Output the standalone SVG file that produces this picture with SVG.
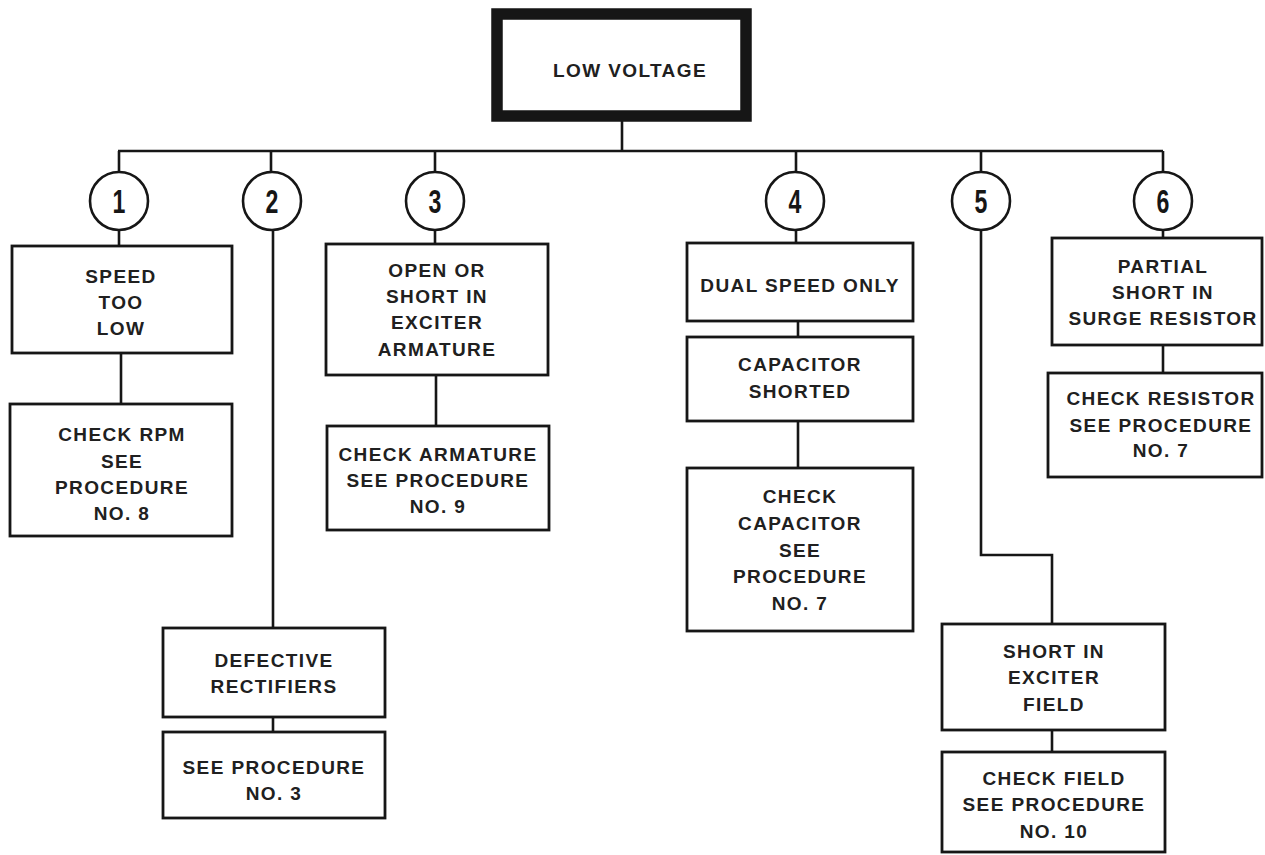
<svg xmlns="http://www.w3.org/2000/svg" width="1265" height="855" viewBox="0 0 1265 855">
  <style>
    .box { fill: #ffffff; stroke: #161616; stroke-width: 2.8; }
    .root { fill: #ffffff; stroke: #161616; stroke-width: 11.5; }
    .ring { fill: #ffffff; stroke: #161616; stroke-width: 2.6; }
    .wire { fill: none; stroke: #161616; stroke-width: 2.6; }
    .lbl { font-family: "Liberation Sans", Arial, Helvetica, sans-serif; font-weight: bold; font-size: 19px; letter-spacing: 1.4px; fill: #202020; text-anchor: middle; }
    .num { font-family: "Liberation Sans", Arial, Helvetica, sans-serif; font-weight: bold; font-size: 34px; fill: #161616; text-anchor: middle; }
  </style>
  <rect width="1265" height="855" fill="#ffffff"/>

  <!-- connectors -->
  <g id="connectors" class="wire">
    <line x1="622" y1="120" x2="622" y2="151"/>
    <line x1="118" y1="151" x2="1163" y2="151"/>
    <!-- branch 1 -->
    <line x1="119" y1="151" x2="119" y2="246"/>
    <line x1="121" y1="353" x2="121" y2="404"/>
    <!-- branch 2 -->
    <line x1="271" y1="151" x2="271" y2="172"/>
    <line x1="273" y1="230" x2="273" y2="628"/>
    <line x1="273" y1="717" x2="273" y2="732"/>
    <!-- branch 3 -->
    <line x1="435" y1="151" x2="435" y2="244"/>
    <line x1="436" y1="375" x2="436" y2="426"/>
    <!-- branch 4 -->
    <line x1="796" y1="151" x2="796" y2="243"/>
    <line x1="798" y1="321" x2="798" y2="337"/>
    <line x1="798" y1="421" x2="798" y2="468"/>
    <!-- branch 5 -->
    <polyline points="981,151 981,555 1052,555 1052,624"/>
    <line x1="1052" y1="730" x2="1052" y2="752"/>
    <!-- branch 6 -->
    <line x1="1163" y1="151" x2="1163" y2="238"/>
    <line x1="1163" y1="345" x2="1163" y2="373"/>
  </g>

  <!-- top node -->
  <g id="low-voltage">
    <rect class="root" x="497" y="14" width="249" height="102"/>
    <text class="lbl" x="630" y="77">LOW VOLTAGE</text>
  </g>

  <!-- numbered markers -->
  <g id="marker-1">
    <circle class="ring" cx="119" cy="201" r="29"/>
    <text class="num" transform="translate(119 213) scale(0.68 1)">1</text>
  </g>
  <g id="marker-2">
    <circle class="ring" cx="272" cy="201" r="29"/>
    <text class="num" transform="translate(272 213) scale(0.68 1)">2</text>
  </g>
  <g id="marker-3">
    <circle class="ring" cx="435" cy="201" r="29"/>
    <text class="num" transform="translate(435 213) scale(0.68 1)">3</text>
  </g>
  <g id="marker-4">
    <circle class="ring" cx="795" cy="201" r="29"/>
    <text class="num" transform="translate(795 213) scale(0.68 1)">4</text>
  </g>
  <g id="marker-5">
    <circle class="ring" cx="981" cy="201" r="29"/>
    <text class="num" transform="translate(981 213) scale(0.68 1)">5</text>
  </g>
  <g id="marker-6">
    <circle class="ring" cx="1163" cy="201" r="29"/>
    <text class="num" transform="translate(1163 213) scale(0.68 1)">6</text>
  </g>

  <!-- branch 1 -->
  <g id="speed-too-low">
    <rect class="box" x="12" y="246" width="220" height="107"/>
    <text class="lbl" x="121" y="283">SPEED</text>
    <text class="lbl" x="121" y="309">TOO</text>
    <text class="lbl" x="121" y="335">LOW</text>
  </g>
  <g id="check-rpm">
    <rect class="box" x="10" y="404" width="222" height="132"/>
    <text class="lbl" x="122" y="441">CHECK RPM</text>
    <text class="lbl" x="122" y="468">SEE</text>
    <text class="lbl" x="122" y="494">PROCEDURE</text>
    <text class="lbl" x="122" y="520">NO. 8</text>
  </g>

  <!-- branch 2 -->
  <g id="defective-rectifiers">
    <rect class="box" x="163" y="628" width="222" height="89"/>
    <text class="lbl" x="274" y="667">DEFECTIVE</text>
    <text class="lbl" x="274" y="693">RECTIFIERS</text>
  </g>
  <g id="procedure-3">
    <rect class="box" x="163" y="732" width="222" height="86"/>
    <text class="lbl" x="274" y="774">SEE PROCEDURE</text>
    <text class="lbl" x="274" y="800">NO. 3</text>
  </g>

  <!-- branch 3 -->
  <g id="exciter-armature">
    <rect class="box" x="326" y="244" width="222" height="131"/>
    <text class="lbl" x="437" y="277">OPEN OR</text>
    <text class="lbl" x="437" y="303">SHORT IN</text>
    <text class="lbl" x="437" y="329">EXCITER</text>
    <text class="lbl" x="437" y="356">ARMATURE</text>
  </g>
  <g id="check-armature">
    <rect class="box" x="327" y="426" width="222" height="104"/>
    <text class="lbl" x="438" y="461">CHECK ARMATURE</text>
    <text class="lbl" x="438" y="487">SEE PROCEDURE</text>
    <text class="lbl" x="438" y="513">NO. 9</text>
  </g>

  <!-- branch 4 -->
  <g id="dual-speed">
    <rect class="box" x="687" y="243" width="226" height="78"/>
    <text class="lbl" x="800" y="292">DUAL SPEED ONLY</text>
  </g>
  <g id="capacitor-shorted">
    <rect class="box" x="687" y="337" width="226" height="84"/>
    <text class="lbl" x="800" y="371">CAPACITOR</text>
    <text class="lbl" x="800" y="398">SHORTED</text>
  </g>
  <g id="check-capacitor">
    <rect class="box" x="687" y="468" width="226" height="163"/>
    <text class="lbl" x="800" y="503">CHECK</text>
    <text class="lbl" x="800" y="530">CAPACITOR</text>
    <text class="lbl" x="800" y="557">SEE</text>
    <text class="lbl" x="800" y="583">PROCEDURE</text>
    <text class="lbl" x="800" y="610">NO. 7</text>
  </g>

  <!-- branch 5 -->
  <g id="exciter-field">
    <rect class="box" x="942" y="624" width="223" height="106"/>
    <text class="lbl" x="1054" y="658">SHORT IN</text>
    <text class="lbl" x="1054" y="684">EXCITER</text>
    <text class="lbl" x="1054" y="711">FIELD</text>
  </g>
  <g id="check-field">
    <rect class="box" x="942" y="752" width="223" height="100"/>
    <text class="lbl" x="1054" y="785">CHECK FIELD</text>
    <text class="lbl" x="1054" y="811">SEE PROCEDURE</text>
    <text class="lbl" x="1054" y="838">NO. 10</text>
  </g>

  <!-- branch 6 -->
  <g id="surge-resistor">
    <rect class="box" x="1052" y="238" width="210" height="107"/>
    <text class="lbl" x="1163" y="273">PARTIAL</text>
    <text class="lbl" x="1163" y="299">SHORT IN</text>
    <text class="lbl" x="1163" y="325">SURGE RESISTOR</text>
  </g>
  <g id="check-resistor">
    <rect class="box" x="1048" y="373" width="214" height="104"/>
    <text class="lbl" x="1161" y="405">CHECK RESISTOR</text>
    <text class="lbl" x="1161" y="432">SEE PROCEDURE</text>
    <text class="lbl" x="1161" y="457">NO. 7</text>
  </g>
</svg>
